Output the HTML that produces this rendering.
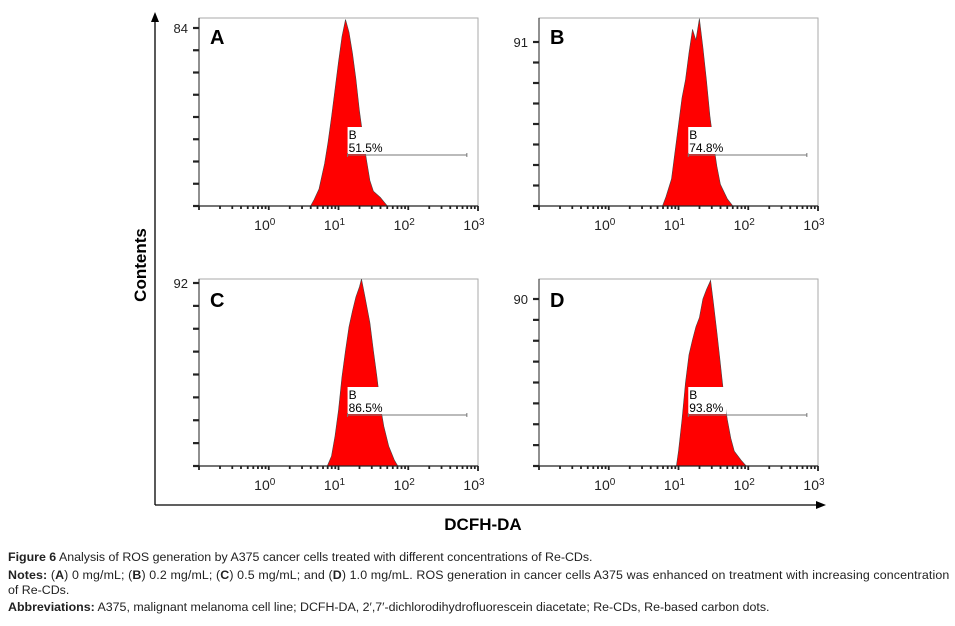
<!DOCTYPE html>
<html><head><meta charset="utf-8"><style>
body{margin:0;background:#fff;width:955px;height:626px;overflow:hidden}
svg{display:block}
.cap{position:absolute;left:8px;font-family:"Liberation Sans Narrow","Liberation Sans",sans-serif;font-size:12.4px;color:#222;white-space:nowrap}
</style></head><body>
<svg id="fig" width="955" height="540" style="position:absolute;left:0;top:0"></svg>
<div class="cap" style="top:550px"><b>Figure 6</b> Analysis of ROS generation by A375 cancer cells treated with different concentrations of Re-CDs.</div>
<div class="cap" style="top:568px;letter-spacing:0.12px"><b>Notes:</b> (<b>A</b>) 0 mg/mL; (<b>B</b>) 0.2 mg/mL; (<b>C</b>) 0.5 mg/mL; and (<b>D</b>) 1.0 mg/mL. ROS generation in cancer cells A375 was enhanced on treatment with increasing concentration</div>
<div class="cap" style="top:583px">of Re-CDs.</div>
<div class="cap" style="top:600px"><b>Abbreviations:</b> A375, malignant melanoma cell line; DCFH-DA, 2′,7′-dichlorodihydrofluorescein diacetate; Re-CDs, Re-based carbon dots.</div>
<script>
const panelLetters = ["A","B","C","D"];
const yMaxLabels = [84, 91, 92, 90];
const gatePercents = ["51.5%","74.8%","86.5%","93.8%"];
const gateLogStart = [1.13, 1.14, 1.13, 1.14];
const gateLogEnd = [2.84, 2.84, 2.84, 2.84];
const xTickLabels = ["0","1","2","3"];
const histLogA = [0.60,0.65,0.72,0.80,0.85,0.90,0.95,1.00,1.05,1.10,1.15,1.20,1.25,1.30,1.35,1.40,1.45,1.50,1.60,1.70];
const histCountA = [0,3,8,20,30,42,55,68,80,88,82,72,60,45,33,22,12,7,4,0];
const histLogB = [0.77,0.82,0.90,0.95,1.00,1.05,1.10,1.15,1.20,1.25,1.30,1.35,1.40,1.45,1.50,1.55,1.60,1.70,1.78];
const histCountB = [0,5,15,30,45,60,70,85,98,92,104,88,70,50,35,22,12,4,0];
const histLogC = [0.84,0.90,0.95,1.00,1.05,1.10,1.15,1.20,1.25,1.30,1.33,1.38,1.45,1.50,1.55,1.60,1.65,1.72,1.80,1.85];
const histCountC = [0,5,15,28,45,58,70,78,85,90,94,85,72,58,45,30,20,10,3,0];
const histLogD = [0.97,1.00,1.05,1.10,1.15,1.20,1.25,1.30,1.35,1.40,1.46,1.50,1.55,1.60,1.65,1.70,1.75,1.80,1.90,1.97];
const histCountD = [0,8,25,45,60,68,75,80,90,95,100,88,72,55,38,25,15,8,3,0];

const NS="http://www.w3.org/2000/svg";
const svg=document.getElementById('fig');
function mk(tag,attrs,parent){const e=document.createElementNS(NS,tag);for(const k in attrs)e.setAttribute(k,attrs[k]);(parent||svg).appendChild(e);return e;}
const logs=[histLogA,histLogB,histLogC,histLogD];
const counts=[histCountA,histCountB,histCountC,histCountD];
const boxes=[{x:199,y:18,w:279,h:188,yl:28},{x:539,y:18,w:279,h:188,yl:42},{x:199,y:279,w:279,h:187,yl:283},{x:539,y:279,w:279,h:187,yl:299}];
boxes.forEach((b,i)=>{
  const g=mk('g',{});
  
  
  const bottom=b.y+b.h;
  const yMax=yMaxLabels[i]*b.h/(bottom-b.yl);
  const xs=l=>b.x+(l+1)*b.w/4;
  const ys=c=>bottom-c/yMax*b.h;
  const fr=mk('rect',{x:b.x,y:b.y,width:b.w,height:b.h,fill:'none',stroke:'#aaa','stroke-width':1},g);
  
  let d='M'+xs(logs[i][0])+','+bottom;
  logs[i].forEach((l,j)=>{d+=' L'+xs(l).toFixed(1)+','+ys(counts[i][j]).toFixed(1);});
  d+=' L'+xs(logs[i][logs[i].length-1])+','+bottom+' Z';
  const h=mk('path',{d:d,fill:'#ff0000',stroke:'#444','stroke-width':0.6},g);
  
  mk('line',{x1:b.x,y1:b.y,x2:b.x,y2:bottom,stroke:'#222','stroke-width':1},g);
  mk('line',{x1:b.x,y1:bottom,x2:b.x+b.w,y2:bottom,stroke:'#222','stroke-width':1.3},g);
  const step=(bottom-b.yl)/8;
  for(let k=0;k<=8;k++){const yy=bottom-k*step;mk('line',{x1:b.x-6,y1:yy,x2:b.x,y2:yy,stroke:'#222','stroke-width':2.2},g);}
  const yl=mk('text',{x:b.x-11,y:b.yl+5,'text-anchor':'end','font-family':'Liberation Sans, sans-serif','font-size':13,fill:'#222'},g);
  yl.textContent=yMaxLabels[i];
  for(let dec=-1;dec<3;dec++){for(let m=1;m<10;m++){const xx=xs(dec+Math.log10(m));mk('line',{x1:xx,y1:bottom,x2:xx,y2:bottom+(m==1?4:3),stroke:'#222','stroke-width':1.8},g);}}
  mk('line',{x1:b.x+b.w,y1:bottom,x2:b.x+b.w,y2:bottom+5,stroke:'#222','stroke-width':1.8},g);
  xTickLabels.forEach(t=>{const xx=xs(+t);const tx=mk('text',{x:xx-4,y:bottom+24,'text-anchor':'middle','font-family':'Liberation Sans, sans-serif','font-size':14,fill:'#222'},g);
    tx.textContent='10';const s=mk('tspan',{dy:-5,'font-size':10},tx);s.textContent=t;
    });
  const lt=mk('text',{x:b.x+11,y:b.y+(i<2?26:28),'font-family':'Liberation Sans, sans-serif','font-size':20,'font-weight':'bold',fill:'#000'},g);
  lt.textContent=panelLetters[i];
  const gy=bottom-51;
  const x1=xs(gateLogStart[i]),x2=xs(gateLogEnd[i]);
  mk('rect',{x:x1,y:gy-28,width:38,height:27,fill:'#fff'},g);
  mk('line',{x1:x1,y1:gy,x2:x2,y2:gy,stroke:'#777','stroke-width':1},g);
  mk('line',{x1:x2,y1:gy-2,x2:x2,y2:gy+2,stroke:'#777','stroke-width':1},g);
  mk('line',{x1:x1,y1:gy-2,x2:x1,y2:gy+2,stroke:'#777','stroke-width':1},g);
  const gb=mk('text',{x:x1+1,y:gy-16,'font-family':'Liberation Sans, sans-serif','font-size':12,fill:'#000'},g);gb.textContent='B';
  
  const gp=mk('text',{x:x1+1,y:gy-3,'font-family':'Liberation Sans, sans-serif','font-size':12,fill:'#000'},g);gp.textContent=gatePercents[i];
  
});
const ya=mk('path',{d:'M155,505 L155,20',stroke:'#000','stroke-width':1.3,fill:'none'});

mk('polygon',{points:'151,22 155,12 159,22',fill:'#000'});
const xa=mk('path',{d:'M155,505 L818,505',stroke:'#000','stroke-width':1.3,fill:'none'});

mk('polygon',{points:'816,501 826,505 816,509',fill:'#000'});
const yt=mk('text',{x:0,y:0,transform:'translate(146,265) rotate(-90)','text-anchor':'middle','font-family':'Liberation Sans, sans-serif','font-size':17,'font-weight':'bold',fill:'#000'});
yt.textContent='Contents';
const xt=mk('text',{x:483,y:530,'text-anchor':'middle','font-family':'Liberation Sans, sans-serif','font-size':17,'font-weight':'bold',fill:'#000'});
xt.textContent='DCFH-DA';
</script>
</body></html>
